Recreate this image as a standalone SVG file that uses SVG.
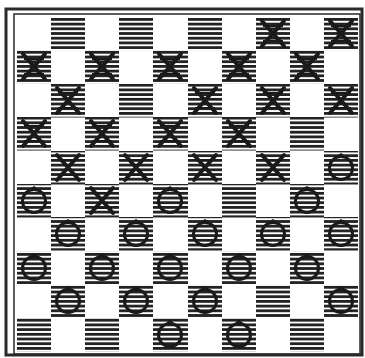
<svg xmlns="http://www.w3.org/2000/svg" xmlns:xlink="http://www.w3.org/1999/xlink" width="365" height="358" viewBox="0 0 365 358">
<style>
.d{fill:url(#hatch)}
.frame{fill:none;stroke:#2a2a2a}
</style>
<defs>
<pattern id="hatch" patternUnits="userSpaceOnUse" x="0" y="18" width="8" height="4.7">
<rect width="8" height="4.7" fill="#fff"/>
<rect y="0" width="8" height="2.8" fill="#222"/>
</pattern>
<symbol id="x" overflow="visible">
<path d="M6,4 L28,29 M28,4 L6,29" stroke="#1a1a1a" stroke-width="4" stroke-linecap="round" fill="none"/>
<path d="M7,9 H27 M7,24 H27" stroke="#1a1a1a" stroke-width="1.8" fill="none"/>
</symbol>
<symbol id="o" overflow="visible">
<circle cx="17" cy="17" r="11.5" fill="none" stroke="#1a1a1a" stroke-width="3"/>
<path d="M14,5 L17,3 L20,5" stroke="#1a1a1a" stroke-width="1.8" fill="none"/>
</symbol>
</defs>
<rect width="365" height="358" fill="#fff"/>
<g id="frame">
<rect class="frame" x="6" y="9" width="356" height="346" stroke-width="3"/>
<rect class="frame" x="14" y="14" width="346" height="340" stroke-width="1.5"/>
</g>
<g id="board">
<rect class="d" x="51" y="17" width="34" height="33.5"/><rect class="d" x="119" y="17" width="34" height="33.5"/><rect class="d" x="188" y="17" width="34" height="33.5"/><rect class="d" x="256" y="17" width="34" height="33.5"/><rect class="d" x="324" y="17" width="34" height="33.5"/>
<rect class="d" x="17" y="50" width="34" height="33.5"/><rect class="d" x="85" y="50" width="34" height="33.5"/><rect class="d" x="153" y="50" width="35" height="33.5"/><rect class="d" x="222" y="50" width="34" height="33.5"/><rect class="d" x="290" y="50" width="34" height="33.5"/>
<rect class="d" x="51" y="84" width="34" height="33.5"/><rect class="d" x="119" y="84" width="34" height="33.5"/><rect class="d" x="188" y="84" width="34" height="33.5"/><rect class="d" x="256" y="84" width="34" height="33.5"/><rect class="d" x="324" y="84" width="34" height="33.5"/>
<rect class="d" x="17" y="117" width="34" height="33.5"/><rect class="d" x="85" y="117" width="34" height="33.5"/><rect class="d" x="153" y="117" width="35" height="33.5"/><rect class="d" x="222" y="117" width="34" height="33.5"/><rect class="d" x="290" y="117" width="34" height="33.5"/>
<rect class="d" x="51" y="151" width="34" height="33.5"/><rect class="d" x="119" y="151" width="34" height="33.5"/><rect class="d" x="188" y="151" width="34" height="33.5"/><rect class="d" x="256" y="151" width="34" height="33.5"/><rect class="d" x="324" y="151" width="34" height="33.5"/>
<rect class="d" x="17" y="184" width="34" height="33.5"/><rect class="d" x="85" y="184" width="34" height="33.5"/><rect class="d" x="153" y="184" width="35" height="33.5"/><rect class="d" x="222" y="184" width="34" height="33.5"/><rect class="d" x="290" y="184" width="34" height="33.5"/>
<rect class="d" x="51" y="217" width="34" height="33.5"/><rect class="d" x="119" y="217" width="34" height="33.5"/><rect class="d" x="188" y="217" width="34" height="33.5"/><rect class="d" x="256" y="217" width="34" height="33.5"/><rect class="d" x="324" y="217" width="34" height="33.5"/>
<rect class="d" x="17" y="251" width="34" height="33.5"/><rect class="d" x="85" y="251" width="34" height="33.5"/><rect class="d" x="153" y="251" width="35" height="33.5"/><rect class="d" x="222" y="251" width="34" height="33.5"/><rect class="d" x="290" y="251" width="34" height="33.5"/>
<rect class="d" x="51" y="284" width="34" height="33.5"/><rect class="d" x="119" y="284" width="34" height="33.5"/><rect class="d" x="188" y="284" width="34" height="33.5"/><rect class="d" x="256" y="284" width="34" height="33.5"/><rect class="d" x="324" y="284" width="34" height="33.5"/>
<rect class="d" x="17" y="318" width="34" height="33.5"/><rect class="d" x="85" y="318" width="34" height="33.5"/><rect class="d" x="153" y="318" width="35" height="33.5"/><rect class="d" x="222" y="318" width="34" height="33.5"/><rect class="d" x="290" y="318" width="34" height="33.5"/>
</g>
<g id="pieces-x">
<use id="x-r0c7" href="#x" x="256" y="17"/><use id="x-r0c9" href="#x" x="324" y="17"/>
<use id="x-r1c0" href="#x" x="17" y="50"/><use id="x-r1c2" href="#x" x="85" y="50"/><use id="x-r1c4" href="#x" x="153" y="50"/><use id="x-r1c6" href="#x" x="222" y="50"/><use id="x-r1c8" href="#x" x="290" y="50"/>
<use id="x-r2c1" href="#x" x="51" y="84"/><use id="x-r2c5" href="#x" x="188" y="84"/><use id="x-r2c7" href="#x" x="256" y="84"/><use id="x-r2c9" href="#x" x="324" y="84"/>
<use id="x-r3c0" href="#x" x="17" y="117"/><use id="x-r3c2" href="#x" x="85" y="117"/><use id="x-r3c4" href="#x" x="153" y="117"/><use id="x-r3c6" href="#x" x="222" y="117"/>
<use id="x-r4c1" href="#x" x="51" y="151"/><use id="x-r4c3" href="#x" x="119" y="151"/><use id="x-r4c5" href="#x" x="188" y="151"/><use id="x-r4c7" href="#x" x="256" y="151"/>
<use id="x-r5c2" href="#x" x="85" y="184"/>
</g>
<g id="pieces-o">
<use id="o-r4c9" href="#o" x="324" y="151"/>
<use id="o-r5c0" href="#o" x="17" y="184"/><use id="o-r5c4" href="#o" x="153" y="184"/><use id="o-r5c8" href="#o" x="290" y="184"/>
<use id="o-r6c1" href="#o" x="51" y="217"/><use id="o-r6c3" href="#o" x="119" y="217"/><use id="o-r6c5" href="#o" x="188" y="217"/><use id="o-r6c7" href="#o" x="256" y="217"/><use id="o-r6c9" href="#o" x="324" y="217"/>
<use id="o-r7c0" href="#o" x="17" y="251"/><use id="o-r7c2" href="#o" x="85" y="251"/><use id="o-r7c4" href="#o" x="153" y="251"/><use id="o-r7c6" href="#o" x="222" y="251"/><use id="o-r7c8" href="#o" x="290" y="251"/>
<use id="o-r8c1" href="#o" x="51" y="284"/><use id="o-r8c3" href="#o" x="119" y="284"/><use id="o-r8c5" href="#o" x="188" y="284"/><use id="o-r8c9" href="#o" x="324" y="284"/>
<use id="o-r9c4" href="#o" x="153" y="318"/><use id="o-r9c6" href="#o" x="222" y="318"/>
</g>
</svg>
